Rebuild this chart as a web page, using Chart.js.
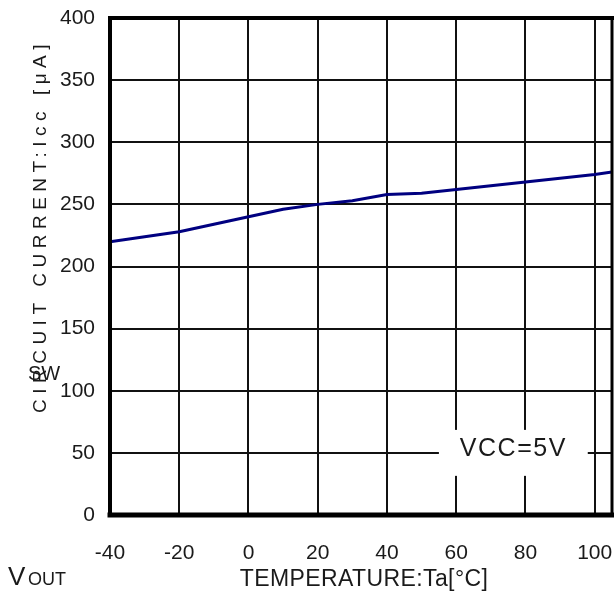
<!DOCTYPE html>
<html>
<head>
  <meta charset="utf-8">
  <title>Circuit current vs temperature</title>
  <script src="https://cdn.jsdelivr.net/npm/chart.js"></script>
  <style>
    html, body {
      margin: 0;
      padding: 0;
      overflow: hidden;
      background: #ffffff;
    }

    #wrap {
      position: relative;
      width: 614px;
      height: 601px;
      overflow: hidden;
    }

    canvas {
      display: block;
    }
  </style>
</head>
<body>

  <div id="wrap"><canvas id="chart"></canvas></div>

  <script>

    var temperatures = [-40, -30, -20, -10, 0, 10, 20, 30, 40, 50, 60, 70, 80, 90, 100, 105]; // Ta [°C]
    var currents = [220, 224, 228, 234, 240, 246, 250, 253, 258, 259, 262, 265, 268, 271, 274, 276]; // Icc [uA]
    var xTicks = [-40, -20, 0, 20, 40, 60, 80, 100];
    var yTicks = [0, 50, 100, 150, 200, 250, 300, 350, 400];

    var FONT = "'Liberation Sans', Arial, sans-serif";
    Chart.defaults.font.family = FONT;

    // fixed axis sizes, no extra room for overhanging labels
    function fixSize(axis) {
      if (axis.isHorizontal()) {
        axis.height = 86;
      } else {
        axis.width = 110;
      }
      axis.paddingTop = 0;
      axis.paddingBottom = 0;
      axis.paddingLeft = 0;
      axis.paddingRight = 0;
    }

    // the frame, the axis titles and the VCC note
    var decorations = {
      id: 'decorations',
      beforeDatasetsDraw: function (chart) {
        var ctx = chart.ctx, x = chart.scales.x, y = chart.scales.y;
        var left = x.getPixelForValue(55), right = x.getPixelForValue(98);
        var top = y.getPixelForValue(68.5), bottom = y.getPixelForValue(31.5);
        ctx.save();
        ctx.fillStyle = '#ffffff';
        ctx.fillRect(left, top, right - left, bottom - top);
        ctx.restore();
      },
      afterDraw: function (chart) {
        var ctx = chart.ctx, a = chart.chartArea, x = chart.scales.x, y = chart.scales.y;
        ctx.save();
        ctx.strokeStyle = '#000000';
        ctx.lineCap = 'square';
        ctx.lineWidth = 4;
        ctx.beginPath();
        ctx.moveTo(a.left, a.bottom);
        ctx.lineTo(a.left, a.top);
        ctx.lineTo(a.right, a.top);
        ctx.stroke();
        ctx.lineWidth = 3;
        ctx.beginPath();
        ctx.moveTo(a.right, a.top);
        ctx.lineTo(a.right, a.bottom);
        ctx.stroke();
        ctx.lineWidth = 5;
        ctx.beginPath();
        ctx.moveTo(a.left, a.bottom);
        ctx.lineTo(a.right, a.bottom);
        ctx.stroke();

        ctx.fillStyle = '#1a1a1a';
        ctx.textAlign = 'center';
        ctx.textBaseline = 'middle';

        // VCC note
        ctx.font = '25px ' + FONT;
        ctx.letterSpacing = '1.5px';
        ctx.fillText('VCC=5V', x.getPixelForValue(76.5), y.getPixelForValue(53));

        // x title
        ctx.font = '23px ' + FONT;
        ctx.letterSpacing = '0.4px';
        ctx.fillText('TEMPERATURE:Ta[°C]', 364, 580);

        // y title
        ctx.save();
        ctx.translate(41, 226);
        ctx.rotate(-Math.PI / 2);
        ctx.font = '19px ' + FONT;
        ctx.letterSpacing = '5.5px';
        ctx.fillText('CIRCUIT CURRENT:Icc [μA]', 0, 0);
        ctx.restore();

        // leftover labels
        ctx.letterSpacing = '0px';
        ctx.textAlign = 'left';
        ctx.textBaseline = 'alphabetic';
        ctx.font = '20px ' + FONT;
        ctx.fillText('SW', 28, 380);
        ctx.font = '26px ' + FONT;
        ctx.fillText('V', 8, 585);
        ctx.font = '18px ' + FONT;
        ctx.fillText('OUT', 28, 585);
        ctx.restore();
      }
    };

    var ctx = document.getElementById('chart').getContext('2d');
    var myChart = new Chart(ctx, {
      type: 'line',
      data: {
        datasets: [{
          data: temperatures.map(function (t, i) { return { x: t, y: currents[i] }; }),
          borderColor: '#000080',
          borderWidth: 3,
          pointRadius: 0,
          tension: 0,
          fill: false
        }]
      },
      options: {
        responsive: true,
        maintainAspectRatio: false,
        animation: false,
        layout: {
          padding: { top: 18, right: 2, left: 0, bottom: 0 }
        },
        plugins: {
          legend: { display: false },
          tooltip: { enabled: false }
        },
        scales: {
          x: {
            type: 'linear',
            min: -40,
            max: 105,
            afterBuildTicks: function (axis) {
              axis.ticks = xTicks.map(function (v) { return { value: v }; });
            },
            afterFit: fixSize,
            grid: { color: '#111111', lineWidth: 2, drawTicks: false },
            border: { display: false },
            ticks: {
              autoSkip: false,
              maxRotation: 0,
              padding: 26,
              color: '#1a1a1a',
              font: { size: 21 }
            }
          },
          y: {
            type: 'linear',
            min: 0,
            max: 400,
            afterBuildTicks: function (axis) {
              axis.ticks = yTicks.map(function (v) { return { value: v }; });
            },
            afterFit: fixSize,
            grid: { color: '#111111', lineWidth: 2, drawTicks: false },
            border: { display: false },
            ticks: {
              autoSkip: false,
              padding: 15,
              color: '#1a1a1a',
              font: { size: 21 }
            }
          }
        }
      },
      plugins: [decorations]
    });

  </script>
</body>
</html>
